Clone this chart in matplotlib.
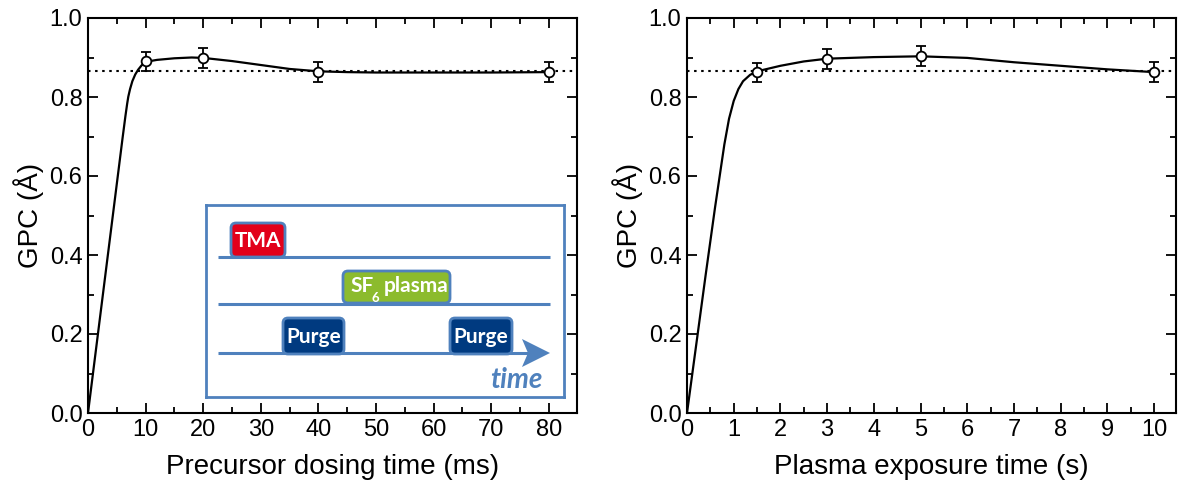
import matplotlib.pyplot as plt
import matplotlib.patches as mpatches
import numpy as np

plt.rcParams['font.family'] = ['Liberation Sans', 'DejaVu Sans']

# donnees mesurees (GPC en Angstrom)
dose_ms = [10, 20, 40, 80]
gpc_dose = [0.890, 0.899, 0.863, 0.864]
err_dose = [0.024, 0.025, 0.025, 0.025]

plasma_s = [1.5, 3, 5, 10]
gpc_plasma = [0.863, 0.897, 0.903, 0.863]
err_plasma = [0.024, 0.025, 0.025, 0.025]

gpc_sat = 0.865

# courbes guides
guide_dose_x = [0, 2, 4, 6, 6.5, 6.8, 7.0, 7.3, 7.7, 8.2, 8.7, 9.3, 10, 12, 15, 18, 20, 25, 30, 35,
                40, 45, 50, 60, 70, 80]
guide_dose_y = [0, 0.232, 0.464, 0.696, 0.752, 0.783, 0.801, 0.82, 0.84, 0.857, 0.869, 0.88, 0.889,
                0.894, 0.898, 0.900, 0.899, 0.891, 0.881, 0.871, 0.865, 0.863, 0.862, 0.862, 0.862, 0.863]
guide_plasma_x = [0, 0.2, 0.4, 0.6, 0.8, 0.9, 1.0, 1.1, 1.2, 1.35, 1.5, 2, 2.5, 3, 4, 5, 6, 7, 8, 9, 10]
guide_plasma_y = [0, 0.175, 0.35, 0.52, 0.68, 0.745, 0.79, 0.82, 0.84, 0.856, 0.865, 0.879, 0.89, 0.897,
                  0.901, 0.903, 0.899, 0.888, 0.879, 0.870, 0.863]

fig = plt.figure(figsize=(11.78, 4.93), dpi=100)
ax1 = fig.add_axes([88 / 1178, 80 / 493, 489 / 1178, 395 / 493])
ax2 = fig.add_axes([687 / 1178, 80 / 493, 489 / 1178, 395 / 493])


def style_axe(ax, xmax, xmaj, xmin, xlabel):
    ax.set_xlim(0, xmax)
    ax.set_ylim(0, 1.0)
    ax.set_xticks(np.arange(0, xmax, xmaj))
    ax.set_xticks(np.arange(0, xmax, xmin), minor=True)
    ax.set_yticks(np.arange(0, 1.01, 0.2))
    ax.set_yticks(np.arange(0, 1.01, 0.1), minor=True)
    ax.yaxis.set_major_formatter(plt.FormatStrFormatter('%.1f'))
    ax.tick_params(which='both', direction='in', top=True, right=True, width=1.3, labelsize=17)
    ax.tick_params(which='major', length=7, pad=4)
    ax.tick_params(which='minor', length=4)
    for s in ax.spines.values():
        s.set_linewidth(1.5)
    ax.set_xlabel(xlabel, fontsize=20, labelpad=10)
    ax.set_ylabel('GPC (Å)', fontsize=20, labelpad=4)


def tracer(ax, gx, gy, x, y, e):
    ax.axhline(gpc_sat, color='k', linestyle=(0, (1.2, 2.2)), lw=1.5)
    ax.plot(gx, gy, color='k', lw=1.6, zorder=3)
    ax.errorbar(x, y, yerr=e, fmt='o', mfc='white', mec='k', mew=1.3, ms=7,
                ecolor='k', elinewidth=1.3, capsize=3.5, capthick=1.3, zorder=4)


tracer(ax1, guide_dose_x, guide_dose_y, dose_ms, gpc_dose, err_dose)
style_axe(ax1, 84.9, 10, 5, 'Precursor dosing time (ms)')
tracer(ax2, guide_plasma_x, guide_plasma_y, plasma_s, gpc_plasma, err_plasma)
style_axe(ax2, 10.47, 1, 0.5, 'Plasma exposure time (s)')

# schema du cycle ALD (coordonnees en pixels de la figure)
bleu = '#4F81BD'
ins = fig.add_axes([206 / 1178, (493 - 397) / 493, 358 / 1178, 192 / 493])
ins.set_xlim(206, 564)
ins.set_ylim(397, 205)
ins.set_xticks([])
ins.set_yticks([])
for s in ins.spines.values():
    s.set_color(bleu)
    s.set_linewidth(2)

for yl in [257, 304]:
    ins.plot([218, 550], [yl, yl], color=bleu, lw=2.2, solid_capstyle='butt')
ins.plot([218, 530], [353, 353], color=bleu, lw=2.2, solid_capstyle='butt')
ins.add_patch(mpatches.Polygon([[522, 339], [550, 353], [522, 367], [528, 353]], closed=True,
                               color=bleu, lw=0))

police = ['Lato', 'DejaVu Sans']
etapes = [
    ('TMA', 231, 223, 285, 257, '#E2001A'),
    ('', 343, 271, 450, 303, '#8CBB2D'),
    ('Purge', 283, 318, 344, 354, '#003A80'),
    ('Purge', 450, 318, 512, 354, '#003A80'),
]
for lab, x0, y0, x1, y1, c in etapes:
    ins.add_patch(mpatches.FancyBboxPatch((x0, y0), x1 - x0, y1 - y0,
                                          boxstyle='round,pad=0,rounding_size=5',
                                          fc=c, ec=bleu, lw=2, zorder=3))
    if lab:
        ins.text((x0 + x1) / 2, (y0 + y1) / 2 + 1, lab, color='white', fontsize=15,
                 fontweight='bold', family=police, ha='center', va='center', zorder=4)

ins.text(350, 286, 'SF', color='white', fontsize=15, fontweight='bold',
         family=police, ha='left', va='center', zorder=4)
ins.text(372, 298, '6', color='white', fontsize=9.5, fontweight='bold',
         family=police, ha='left', va='center', zorder=4)
ins.text(384, 286, 'plasma', color='white', fontsize=15, fontweight='bold',
         family=police, ha='left', va='center', zorder=4)
ins.text(543, 380, 'time', color=bleu, fontsize=20, fontweight='bold', style='italic',
         family=police, ha='right', va='center')

fig.savefig('out.png', dpi=100)
